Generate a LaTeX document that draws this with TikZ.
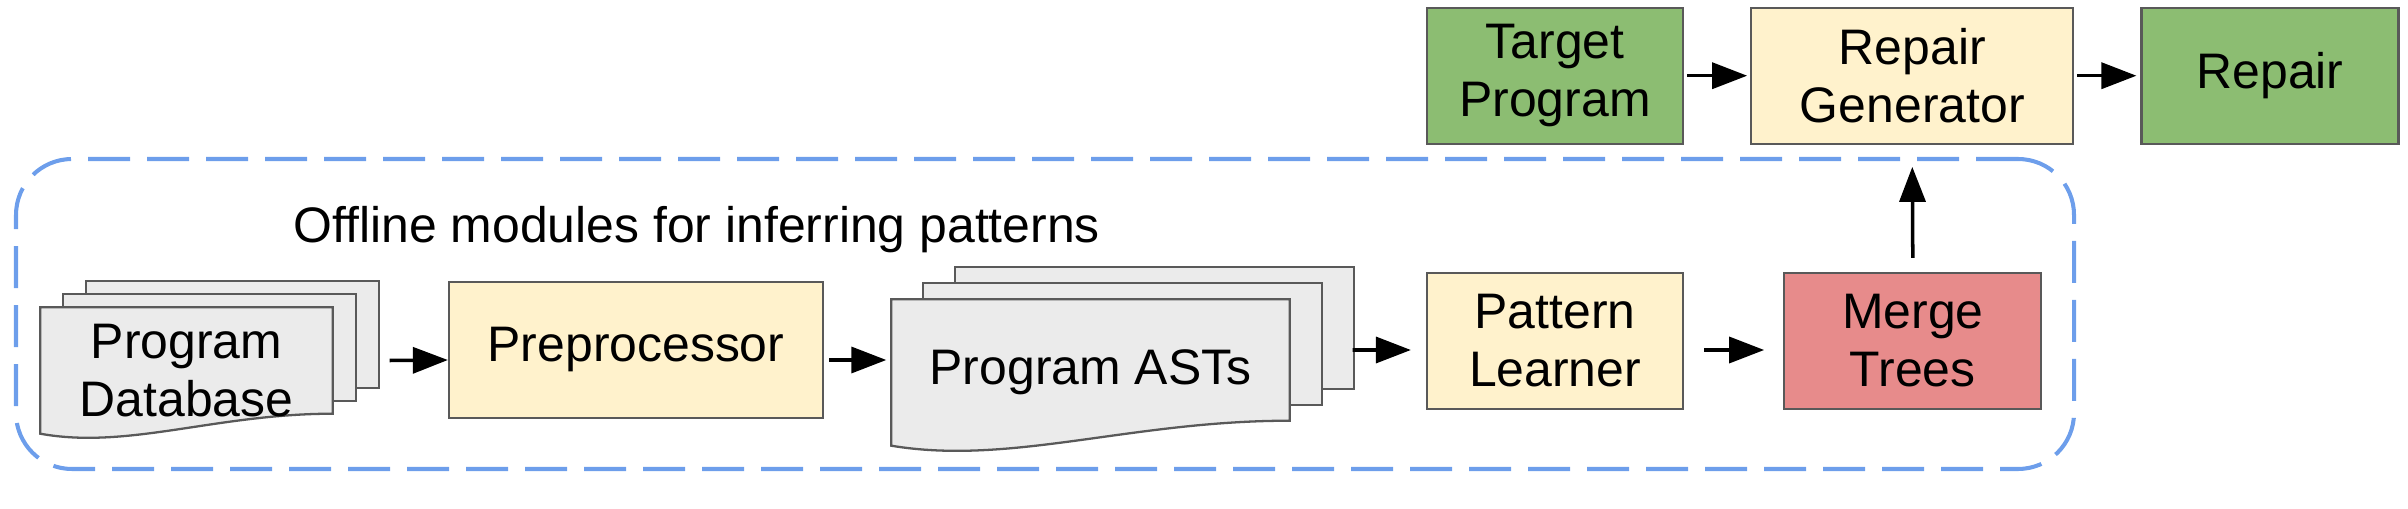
\documentclass[tikz,border=0pt]{standalone}
\usepackage{fontspec}
\setmainfont{Liberation Sans}
\usepackage{xcolor}
\usetikzlibrary{arrows.meta, positioning, calc, backgrounds}

\definecolor{boxyellow}{HTML}{FFF2CC}
\definecolor{boxgreen}{HTML}{8CBD72}
\definecolor{boxred}{HTML}{E78B8B}
\definecolor{pagegray}{HTML}{EBEBEB}
\definecolor{edgegray}{HTML}{595959}
\definecolor{dashblue}{HTML}{6D9EEB}

\newcommand{\docstack}[4]{%
  \begin{scope}[on background layer]
    \foreach \k in {2,1}
      \draw[pagebox] ($(#1.north west)+(\k*#2,\k*#3)$) rectangle ($(#1.south east)+(\k*#2,#4+\k*#3)$);
    \draw[pagebox] (#1.north west) -- (#1.north east) -- ($(#1.south east)+(0,#4)$)
      .. controls ($(#1.south west)!0.6!(#1.south east)+(0,#4)$)
      and ($(#1.south west)!0.3!(#1.south east)+(0,-0.8*#4)$) .. (#1.south west) -- cycle;
  \end{scope}}

\begin{document}
\begin{tikzpicture}[
    font=\fontsize{14.2}{16.5}\selectfont,
    box/.style={rectangle, draw=edgegray, line width=0.65pt, align=center, minimum height=1.36cm},
    procbox/.style={box, fill=boxyellow},
    iobox/.style={box, fill=boxgreen},
    mergebox/.style={box, fill=boxred},
    pagebox/.style={draw=edgegray, line width=0.65pt, fill=pagegray},
    docnode/.style={rectangle, align=center, inner sep=0pt},
    offbox/.style={draw=dashblue, line width=1.15pt, dash pattern=on 4.2mm off 1.7mm, rounded corners=5.6mm},
    arrow/.style={line width=1pt, ->, >={Triangle[length=3.5mm,width=2.6mm]}}
]
\useasboundingbox (0,0) rectangle (24.08,5.08);

\node[offbox, minimum width=20.58cm, minimum height=3.10cm] (offline) at (10.45,1.94) {};
\node[anchor=base west, inner sep=0pt] (offlinelbl) at (2.93,2.65) {Offline modules for inferring patterns};

\node[docnode, minimum width=2.91cm, minimum height=1.25cm] (db) at (1.865,1.375) {Program\\Database};
\node[procbox, minimum width=3.74cm] (pre) at (6.36,1.58) {Preprocessor};
\node[docnode, minimum width=3.97cm, minimum height=1.45cm] (ast) at (10.905,1.355) {Program ASTs};
\node[procbox, minimum width=2.56cm] (pl) at (15.55,1.67) {Pattern\\Learner};
\node[mergebox, minimum width=2.57cm, right=0.99cm of pl] (mt) {Merge\\Trees};
\node[iobox, minimum width=2.56cm, above=1.27cm of pl] (tp) {Target\\Program};
\node[procbox, minimum width=3.22cm, right=0.66cm of tp] (rg) {Repair\\Generator};
\node[iobox, minimum width=2.57cm, right=0.66cm of rg] (repair) {Repair};

\docstack{db}{0.23}{0.13}{0.2}
\docstack{ast}{0.32}{0.16}{0.25}

\draw[arrow] ([xshift=5.7mm,yshift=1mm]db.east) -- ([yshift=-1mm]pre.west);
\draw[arrow] ([xshift=0.5mm,yshift=-1mm]pre.east) -- ([xshift=-0.5mm,yshift=1.25mm]ast.west);
\draw[arrow] ([xshift=6.3mm,yshift=2.25mm]ast.east) -- ([xshift=-1.5mm,yshift=-0.9mm]pl.west);
\draw[arrow] ([xshift=2mm,yshift=-0.9mm]pl.east) -- ([xshift=-1.9mm,yshift=-0.9mm]mt.west);
\draw[arrow] ([yshift=1.4mm]mt.north) -- ([yshift=-2.2mm]rg.south);
\draw[arrow] ([xshift=0.3mm]tp.east) -- ([xshift=-0.3mm]rg.west);
\draw[arrow] ([xshift=0.3mm]rg.east) -- ([xshift=-0.4mm]repair.west);

\end{tikzpicture}
\end{document}
